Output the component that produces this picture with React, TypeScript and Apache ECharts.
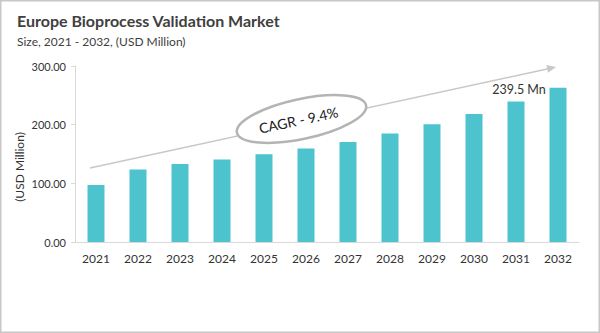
import React, { useEffect, useRef } from "react";
import * as echarts from "echarts";

const years = ["2021", "2022", "2023", "2024", "2025", "2026", "2027", "2028", "2029", "2030", "2031", "2032"];
const marketSize = [97, 123.6, 133, 140.6, 149.5, 159.5, 170.5, 185, 200.7, 218.2, 239.5, 263];
const yTicks = { min: 0, max: 300, interval: 100 };
const highlightIndex = 10;
const highlightLabel = "239.5 Mn";
const cagrText = "CAGR - 9.4%";

const FONT = "Lato";

export default function App() {
  const ref = useRef<HTMLDivElement>(null);
  useEffect(() => {
    if (!ref.current) return;
    const chart = echarts.init(ref.current, undefined, { renderer: "svg" });
    const dir = [466, -101];
    const len = Math.hypot(dir[0], dir[1]);
    const u = [dir[0] / len, dir[1] / len];
    const p = [-u[1], u[0]];
    const tip = [556, 67];
    const hl = 9, hw = 4;
    const base = [tip[0] - u[0] * hl, tip[1] - u[1] * hl];
    chart.setOption({
      animation: false,
      backgroundColor: "#ffffff",
      textStyle: { fontFamily: FONT },
      grid: { left: 75, right: 21, top: 66, bottom: 91, containLabel: false },
      xAxis: {
        type: "category",
        data: years,
        axisLine: { lineStyle: { color: "#d9d9d9", width: 1 } },
        axisTick: { show: false },
        axisLabel: { color: "#333333", fontSize: 12, margin: 10, fontFamily: FONT },
      },
      yAxis: {
        type: "value",
        min: yTicks.min,
        max: yTicks.max,
        interval: yTicks.interval,
        splitLine: { show: false },
        axisLine: { show: true, lineStyle: { color: "#d9d9d9" } },
        axisTick: { show: true, length: 4, lineStyle: { color: "#d9d9d9" } },
        axisLabel: {
          color: "#333333",
          fontSize: 11,
          margin: 9,
          fontFamily: FONT,
          formatter: (v: number) => v.toFixed(2),
        },
      },
      series: [
        {
          type: "bar",
          barWidth: 17,
          itemStyle: { color: "#4DC3CE" },
          data: marketSize.map((v, i) =>
            i === highlightIndex
              ? {
                  value: v,
                  label: {
                    show: true,
                    position: "top",
                    distance: 5,
                    offset: [3, 0],
                    formatter: highlightLabel,
                    color: "#333333",
                    fontSize: 12.5,
                    fontFamily: FONT,
                  },
                }
              : v
          ),
          z: 2,
        },
      ],
      graphic: [
        {
          type: "rect",
          shape: { x: 0.5, y: 0.5, width: 599, height: 332 },
          style: { fill: "none", stroke: "#c8c8c8", lineWidth: 2 },
          silent: true,
        },
        {
          type: "text",
          left: 17,
          top: 12,
          style: { text: "Europe Bioprocess Validation Market", fill: "#404040", font: `bold 16px ${FONT}` },
        },
        {
          type: "text",
          left: 17,
          top: 35,
          style: { text: "Size, 2021 - 2032, (USD Million)", fill: "#404040", font: `12px ${FONT}` },
        },
        {
          type: "text",
          x: 19,
          y: 167,
          rotation: Math.PI / 2,
          style: {
            text: "(USD Million)",
            fill: "#333333",
            font: `12px ${FONT}`,
            align: "center",
            verticalAlign: "middle",
          },
        },
        {
          type: "line",
          shape: { x1: 90, y1: 168, x2: base[0], y2: base[1] },
          style: { stroke: "#c8c8c8", lineWidth: 1.5 },
          z: 10,
        },
        {
          type: "polygon",
          shape: {
            points: [
              tip,
              [base[0] + p[0] * hw, base[1] + p[1] * hw],
              [base[0] - p[0] * hw, base[1] - p[1] * hw],
            ],
          },
          style: { fill: "#c8c8c8" },
          z: 10,
        },
        {
          type: "ellipse",
          x: 301.5,
          y: 119,
          rotation: 0.21,
          z: 20,
          shape: { cx: 0, cy: 0, rx: 66, ry: 20 },
          style: { fill: "#ffffff", stroke: "#b4b4b4", lineWidth: 2.5 },
        },
        {
          type: "text",
          x: 301.5 - 3,
          y: 120,
          rotation: 0.21,
          z: 21,
          style: {
            text: cagrText,
            fill: "#222222",
            font: `14px ${FONT}`,
            align: "center",
            verticalAlign: "middle",
          },
        },
      ],
    });
    return () => chart.dispose();
  }, []);
  return (
    <div
      ref={ref}
      style={{ position: "fixed", left: 0, top: 0, width: 600, height: 333 }}
    />
  );
}
